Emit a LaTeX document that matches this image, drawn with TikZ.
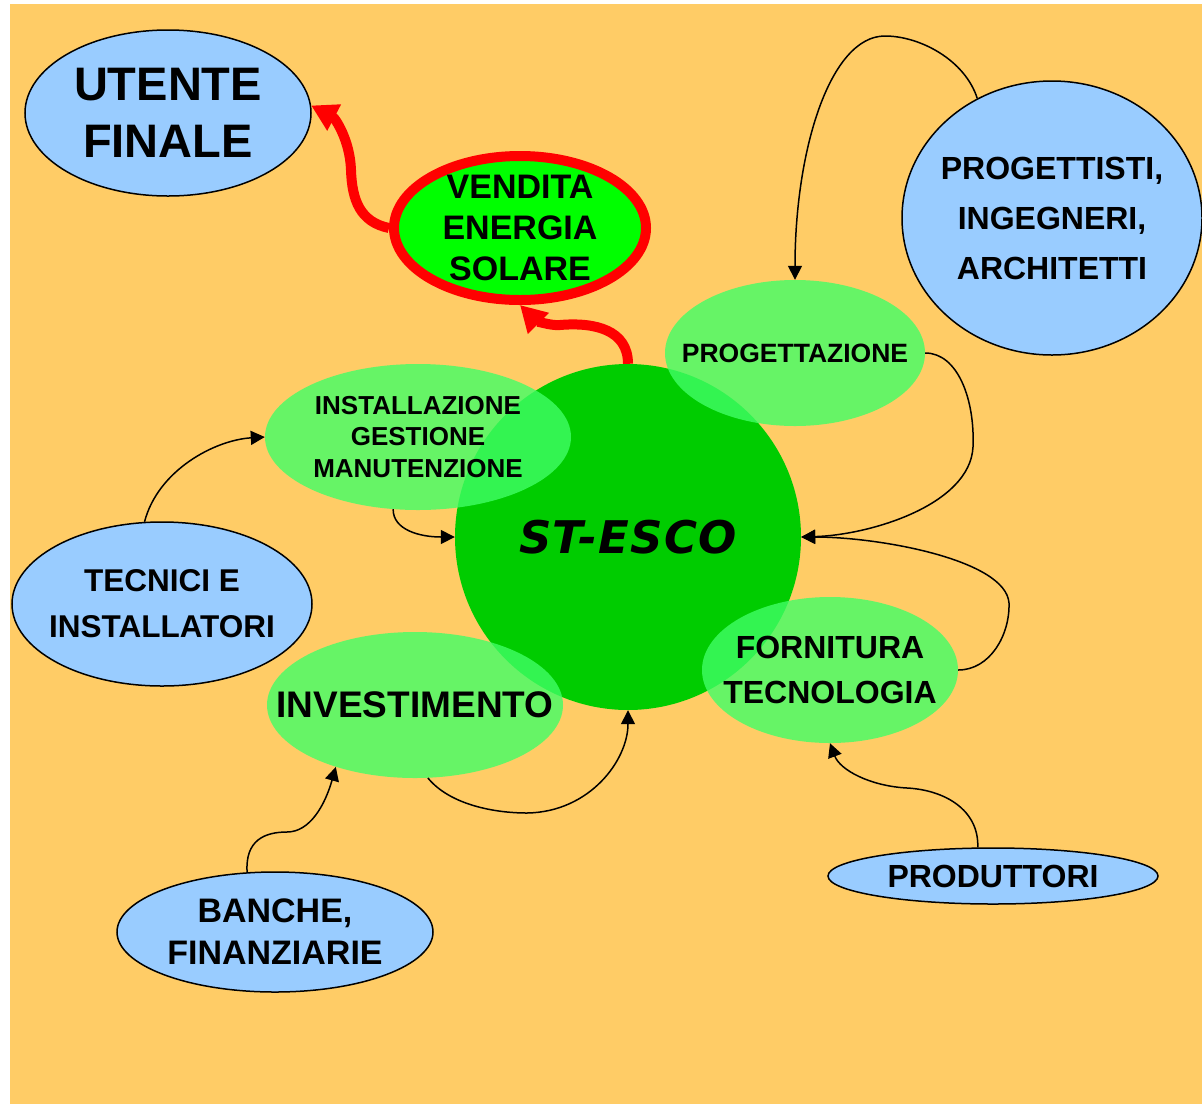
\documentclass[tikz,border=0pt]{standalone}
\usepackage{fontspec}
\setmainfont{Liberation Sans}
\newfontfamily\escofont{DejaVu Sans}[LetterSpace=3]
\usepackage{tikz}
\usetikzlibrary{arrows.meta,shapes.geometric,positioning,calc}

\definecolor{sfondo}{HTML}{FFCC66}
\definecolor{celeste}{HTML}{99CCFF}
\definecolor{verdechiaro}{HTML}{40FF66}
\definecolor{verdescuro}{HTML}{00CC00}
\definecolor{verdevivo}{HTML}{00FF00}
\definecolor{rosso}{HTML}{FF0000}
\newcommand{\fs}[2]{\bfseries\fontsize{#1}{#2}\selectfont}

\begin{document}
\begin{tikzpicture}[x=1pt,y=-1pt,
  blu/.style={ellipse, draw=black, line width=1.5pt, fill=celeste, inner sep=0pt},
  verde/.style={ellipse, fill=verdechiaro, fill opacity=.8, inner sep=0pt},
  scritta/.style={align=center, text opacity=1, fill opacity=1, inner sep=0pt},
  freccia/.style={-{Triangle[length=14pt,width=14pt]}, line width=1.5pt},
  rossa/.style={-{Triangle[length=26pt,width=28pt]}, line width=10pt, draw=rosso}]
\useasboundingbox (0,0) rectangle (1202,1104);
\fill[sfondo] (10,4) rectangle (1202,1104);

\node[circle, fill=verdescuro, minimum size=346, inner sep=0pt,
  label={[scritta, name=esco-t, font=\escofont\bfseries\itshape\fontsize{45}{50}\selectfont]center:ST-ESCO}] (esco) at (628,537) {};

\node[blu, minimum width=286, minimum height=166,
  label={[scritta, name=utente-t, font=\fs{47}{57}]center:UTENTE\\FINALE}] (utente) at (168,113) {};
\node[ellipse, fill=verdevivo, draw=rosso, line width=10pt, inner sep=0pt, minimum width=252, minimum height=144,
  label={[scritta, name=vendita-t, font=\fs{34}{41}]center:VENDITA\\ENERGIA\\SOLARE}] (vendita) at (520,228) {};
\node[blu, minimum width=300, minimum height=274,
  label={[scritta, name=progettisti-t, font=\fs{32}{50}]center:PROGETTISTI,\\INGEGNERI,\\ARCHITETTI}] (progettisti) at (1052,218) {};

\node[verde, minimum width=260, minimum height=146,
  label={[scritta, name=progettazione-t, font=\fs{26.5}{32}]center:PROGETTAZIONE}] (progettazione) at (795,353) {};
\node[verde, minimum width=306, minimum height=146,
  label={[scritta, name=installazione-t, font=\fs{26}{31.5}]center:INSTALLAZIONE\\GESTIONE\\MANUTENZIONE}] (installazione) at (418,437) {};
\node[verde, minimum width=256, minimum height=146,
  label={[scritta, name=fornitura-t, font=\fs{32}{45}]center:FORNITURA\\TECNOLOGIA}] (fornitura) at (830,670) {};
\node[verde, minimum width=296, minimum height=146,
  label={[scritta, name=investimento-t, font=\fs{37}{44}]center:INVESTIMENTO}] (investimento) at (415,705) {};

\node[blu, minimum width=300, minimum height=164,
  label={[scritta, name=tecnici-t, font=\fs{31.5}{46}]center:TECNICI E\\INSTALLATORI}] (tecnici) at (162,604) {};
\node[blu, minimum width=316, minimum height=120,
  label={[scritta, name=banche-t, font=\fs{34}{42}]center:BANCHE,\\FINANZIARIE}] (banche) at (275,932) {};
\node[blu, minimum width=330, minimum height=56,
  label={[scritta, name=produttori-t, font=\fs{32}{38}]center:PRODUTTORI}] (produttori) at (993,876) {};

\draw[freccia] (progettisti.122) .. controls (965,60) and (920,36) .. (885,36) .. controls (830,36) and (795,150) .. (progettazione.north);
\draw[freccia] (progettazione.east) .. controls (958,353) and (975,400) .. (973,447) .. controls (970,505) and (870,535) .. (esco.east);
\draw[freccia] (fornitura.east) .. controls (990,670) and (1010,635) .. (1009,603) .. controls (1006,560) and (880,537) .. (esco.east);
\draw[freccia] (produttori.118) .. controls (979,810) and (945,790) .. (907,788) .. controls (870,786) and (840,770) .. (fornitura.south);
\draw[freccia] (investimento.-80) .. controls (450,805) and (495,813) .. (527,813) .. controls (590,812) and (628,760) .. (esco.south);
\draw[freccia] (banche.115) .. controls (245,840) and (265,832) .. (287,832) .. controls (310,832) and (325,805) .. (investimento.218);
\draw[freccia] (tecnici.102) .. controls (158,470) and (215,440) .. (installazione.west);
\draw[freccia] (installazione.251) .. controls (393,530) and (420,537) .. (esco.west);

\draw[rossa] (esco.north) .. controls (628,330) and (595,322) .. (560,325) .. controls (550,326) and (535,320) .. (vendita.south);
\draw[rossa] (vendita.west) .. controls (360,222) and (352,200) .. (351,170) .. controls (350,140) and (335,118) .. (utente.3);
\end{tikzpicture}
\end{document}
